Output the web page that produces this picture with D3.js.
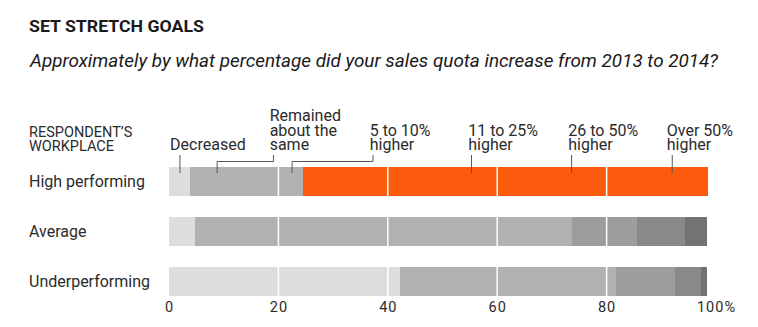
<!DOCTYPE html>
<html>
<head>
<meta charset="utf-8">
<script src="https://cdn.jsdelivr.net/npm/d3@7"></script>
<style>
  body { margin: 0; background: #fff; }
  text { font-family: Roboto, "Open Sans", sans-serif; fill: #2b2b2b; }
</style>
</head>
<body>
<svg id="chart" width="758" height="327"></svg>
<script>
// categories / données
const rows = ['High performing', 'Average', 'Underperforming'];
const answers = ['Decreased', 'Remained about the same', '5 to 10% higher', '11 to 25% higher', '26 to 50% higher', 'Over 50% higher'];

// pourcentage de répondants par réponse, une liste par ligne
const highValues = [3.8, 16.2, 4.5, 31, 27, 16];
const averageValues = [4.8, 40, 28.9, 11.9, 8.8, 4];
const underValues = [42.3, 25, 14.4, 10.8, 4.8, 1.1];

const greyColors = ['#dddddd', '#b1b1b1', '#b1b1b1', '#9d9d9d', '#898989', '#737373'];
const highColors = ['#dddddd', '#b1b1b1', '#b1b1b1', '#fc5a0c', '#fc5a0c', '#fc5a0c'];

const xTicks = [0, 20, 40, 60, 80, 100];
const gridValues = [20, 40, 60, 80];

// annotations au-dessus de la première barre (positions en %)
const notes = [
    { lines: ['Decreased'], at: 0.2, pointer: 2.0, elbow: null },
    { lines: ['Remained', 'about the', 'same'], at: 18.4, pointer: 8.8, elbow: 19.1 },
    { lines: ['5 to 10%', 'higher'], at: 36.7, pointer: 22.5, elbow: 37.3 },
    { lines: ['11 to 25%', 'higher'], at: 54.7, pointer: 55.3, elbow: null },
    { lines: ['26 to 50%', 'higher'], at: 73.0, pointer: 73.6, elbow: null },
    { lines: ['Over 50%', 'higher'], at: 91.0, pointer: 92.0, elbow: null }
];

const data = [
    { row: rows[0], values: highValues, colors: highColors },
    { row: rows[1], values: averageValues, colors: greyColors },
    { row: rows[2], values: underValues, colors: greyColors }
];

const svg = d3.select('#chart');

const x = d3.scaleLinear().domain([0, 100]).range([169, 716]);
const y = d3.scaleBand().domain(rows).range([167, 296]).paddingInner(0.42).paddingOuter(0);

// titre
svg.append('text')
    .attr('x', 29).attr('y', 31.5)
    .attr('font-size', 17).attr('font-weight', 700)
    .attr('textLength', 175).attr('lengthAdjust', 'spacingAndGlyphs')
    .style('fill', '#1a1a1a')
    .text('SET STRETCH GOALS');

svg.append('text')
    .attr('x', 30).attr('y', 67)
    .attr('font-size', 18.5).attr('font-style', 'italic')
    .attr('textLength', 688).attr('lengthAdjust', 'spacingAndGlyphs')
    .style('fill', '#1a1a1a')
    .text('Approximately by what percentage did your sales quota increase from 2013 to 2014?');

// en-tête des lignes
svg.append('text')
    .attr('x', 29).attr('y', 137)
    .attr('font-size', 14.5)
    .selectAll('tspan')
    .data(['RESPONDENT\u2019S', 'WORKPLACE'])
    .enter().append('tspan')
    .attr('x', 29)
    .attr('dy', (d, i) => i === 0 ? 0 : 13.5)
    .text(d => d);

// barres empilées
data.forEach(d => {
    let start = 0;
    const segs = d.values.map((v, i) => {
        const s = { x0: start, x1: start + v, color: d.colors[i], answer: answers[i] };
        start += v;
        return s;
    });
    svg.append('g')
        .attr('shape-rendering', 'crispEdges')
        .selectAll('rect')
        .data(segs)
        .enter().append('rect')
        .attr('x', s => Math.round(x(s.x0)))
        .attr('y', y(d.row))
        .attr('width', s => Math.round(x(s.x1)) - Math.round(x(s.x0)))
        .attr('height', y.bandwidth())
        .attr('fill', s => s.color);
});

// lignes de grille blanches
svg.append('g')
    .selectAll('line')
    .data(gridValues)
    .enter().append('line')
    .attr('x1', d => x(d)).attr('x2', d => x(d))
    .attr('y1', y(rows[0])).attr('y2', y(rows[2]) + y.bandwidth())
    .attr('stroke', '#fff')
    .attr('stroke-width', 1.5);

// libellés des lignes
svg.append('g')
    .selectAll('text')
    .data(rows)
    .enter().append('text')
    .attr('x', 29)
    .attr('y', d => y(d) + y.bandwidth() / 2)
    .attr('dy', '0.35em')
    .attr('font-size', 16)
    .text(d => d);

// axe du bas
const xAxis = d3.axisBottom(x)
    .tickValues(xTicks)
    .tickSize(0)
    .tickPadding(0)
    .tickFormat(d => d === 100 ? '100%' : d);

const axisG = svg.append('g')
    .attr('transform', 'translate(0,302)')
    .call(xAxis);
axisG.select('.domain').remove();
axisG.selectAll('text')
    .attr('font-size', 14.5)
    .attr('letter-spacing', 1)
    .attr('font-family', 'Roboto, sans-serif')
    .style('fill', '#2b2b2b');

// annotations
const topY = y(rows[0]);
const noteG = svg.append('g');
notes.forEach(n => {
    const lastBase = 150;
    const t = noteG.append('text')
        .attr('x', x(n.at))
        .attr('y', lastBase - (n.lines.length - 1) * 14.3)
        .attr('font-size', 16);
    t.selectAll('tspan')
        .data(n.lines)
        .enter().append('tspan')
        .attr('x', x(n.at))
        .attr('dy', (d, i) => i === 0 ? 0 : 14.3)
        .text(d => d);

    let path;
    if (n.elbow !== null) {
        path = `M${x(n.elbow)},155 V161.5 H${x(n.pointer)} V${topY + 6}`;
    } else {
        path = `M${x(n.pointer)},155 V${topY + 6}`;
    }
    noteG.append('path')
        .attr('d', path)
        .attr('fill', 'none')
        .attr('stroke', '#555')
        .attr('stroke-width', 1);
});
</script>
</body>
</html>
